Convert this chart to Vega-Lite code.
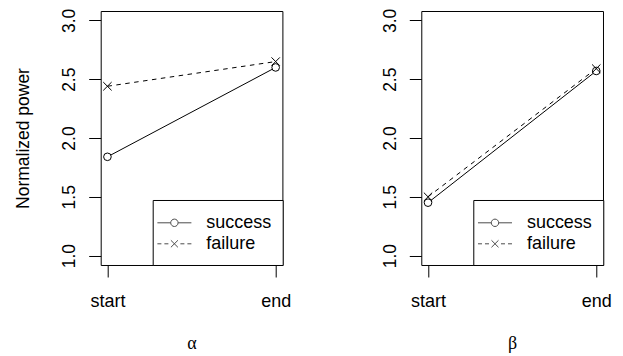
{
  "$schema": "https://vega.github.io/schema/vega-lite/v6.json",
  "background": "white",
  "padding": {"left": 13.7, "top": 7, "right": 0, "bottom": 0},
  "data": {"values": [
    {"panel": "alpha", "series": "success", "stage": "start", "value": 1.84},
    {"panel": "alpha", "series": "success", "stage": "end", "value": 2.60},
    {"panel": "alpha", "series": "failure", "stage": "start", "value": 2.44},
    {"panel": "alpha", "series": "failure", "stage": "end", "value": 2.65},
    {"panel": "beta", "series": "success", "stage": "start", "value": 1.45},
    {"panel": "beta", "series": "success", "stage": "end", "value": 2.57},
    {"panel": "beta", "series": "failure", "stage": "start", "value": 1.50},
    {"panel": "beta", "series": "failure", "stage": "end", "value": 2.59}
  ]},
  "spacing": 138.6,
  "bounds": "flush",
  "resolve": {"scale": {"shape": "independent"}, "legend": {"shape": "independent"}},
  "hconcat": [
    {
      "width": 181.7,
      "height": 254,
      "transform": [{"filter": "datum.panel == 'alpha'"}],
      "encoding": {
        "x": {"field": "stage", "type": "ordinal", "sort": ["start", "end"],
          "scale": {"type": "point", "domain": ["start", "end"], "padding": 0.04},
          "axis": {"title": "α", "titleFont": "Liberation Serif", "titleFontSize": 18, "titleFontWeight": "normal",
            "titleX": 90.85, "titleY": 83.5, "titleBaseline": "alphabetic", "titleAlign": "center",
            "labelAngle": 0, "labelFontSize": 18, "labelBaseline": "alphabetic", "labelAlign": "center", "labelPadding": 29.2, "tickSize": 12}},
        "y": {"field": "value", "type": "quantitative",
          "scale": {"domain": [0.92, 3.08], "nice": false, "zero": false},
          "axis": {"title": "Normalized power", "values": [1, 1.5, 2, 2.5, 3], "format": ".1f",
            "labelAngle": 270, "labelAlign": "center", "labelBaseline": "alphabetic", "labelPadding": 14, "labelFontSize": 17.5, "labelOverlap": false,
            "titleFontSize": 17.5, "titleFontWeight": "normal", "titleAngle": 270, "titleX": -72.5, "titleY": 127, "titleAlign": "center", "titleBaseline": "alphabetic", "tickSize": 12}}
      },
      "layer": [
        {"transform": [{"filter": "datum.series == 'success'"}],
          "mark": {"type": "line", "color": "black", "strokeWidth": 1}},
        {"transform": [{"filter": "datum.series == 'failure'"}],
          "mark": {"type": "line", "color": "black", "strokeWidth": 1, "strokeDash": [4.5, 4.5]}},
        {"transform": [{"filter": "datum.series == 'success'"}],
          "mark": {"type": "point", "shape": "circle", "filled": true, "fill": "white", "stroke": "black", "strokeWidth": 1, "size": 58, "opacity": 1}},
        {"transform": [{"filter": "datum.series == 'failure'"}],
          "mark": {"type": "point", "shape": "M-1,-1L1,1M-1,1L1,-1", "filled": false, "stroke": "black", "strokeWidth": 1, "size": 70, "opacity": 1}},
        {"mark": {"type": "point", "filled": false, "color": "black", "strokeWidth": 1, "size": 0},
          "encoding": {"shape": {"field": "series", "type": "nominal",
            "scale": {"domain": ["success", "failure"], "range": [
              "M-1.545,0L-0.336,0M0.336,0L1.545,0M-0.336,0A0.336,0.336,0,1,1,0.336,0A0.336,0.336,0,1,1,-0.336,0Z",
              "M-1.545,0L-1.182,0M-0.909,0L-0.545,0M0.545,0L0.909,0M1.182,0L1.545,0M-0.318,-0.318L0.318,0.318M-0.318,0.318L0.318,-0.318"]},
            "legend": {"title": null, "orient": "bottom-right", "offset": 0, "padding": 11.3, "fillColor": "white", "strokeColor": "black",
              "labelFontSize": 18, "labelFont": "Liberation Sans", "labelColor": "black", "symbolSize": 484, "symbolStrokeWidth": 1,
              "symbolStrokeColor": "black", "symbolFillColor": "transparent", "labelOffset": 20.4, "symbolOffset": -1.1, "rowPadding": -2}}}}
      ]
    },
    {
      "width": 181.7,
      "height": 254,
      "transform": [{"filter": "datum.panel == 'beta'"}],
      "encoding": {
        "x": {"field": "stage", "type": "ordinal", "sort": ["start", "end"],
          "scale": {"type": "point", "domain": ["start", "end"], "padding": 0.04},
          "axis": {"title": "β", "titleFont": "Liberation Serif", "titleFontSize": 18, "titleFontWeight": "normal",
            "titleX": 90.85, "titleY": 83.5, "titleBaseline": "alphabetic", "titleAlign": "center",
            "labelAngle": 0, "labelFontSize": 18, "labelBaseline": "alphabetic", "labelAlign": "center", "labelPadding": 29.2, "tickSize": 12}},
        "y": {"field": "value", "type": "quantitative",
          "scale": {"domain": [0.92, 3.08], "nice": false, "zero": false},
          "axis": {"title": null, "values": [1, 1.5, 2, 2.5, 3], "format": ".1f",
            "labelAngle": 270, "labelAlign": "center", "labelBaseline": "alphabetic", "labelPadding": 14, "labelFontSize": 17.5, "labelOverlap": false, "tickSize": 12}}
      },
      "layer": [
        {"transform": [{"filter": "datum.series == 'success'"}],
          "mark": {"type": "line", "color": "black", "strokeWidth": 1}},
        {"transform": [{"filter": "datum.series == 'failure'"}],
          "mark": {"type": "line", "color": "black", "strokeWidth": 1, "strokeDash": [4.5, 4.5]}},
        {"transform": [{"filter": "datum.series == 'success'"}],
          "mark": {"type": "point", "shape": "circle", "filled": true, "fill": "white", "stroke": "black", "strokeWidth": 1, "size": 58, "opacity": 1}},
        {"transform": [{"filter": "datum.series == 'failure'"}],
          "mark": {"type": "point", "shape": "M-1,-1L1,1M-1,1L1,-1", "filled": false, "stroke": "black", "strokeWidth": 1, "size": 70, "opacity": 1}},
        {"mark": {"type": "point", "filled": false, "color": "black", "strokeWidth": 1, "size": 0},
          "encoding": {"shape": {"field": "series", "type": "nominal",
            "scale": {"domain": ["success", "failure"], "range": [
              "M-1.545,0L-0.336,0M0.336,0L1.545,0M-0.336,0A0.336,0.336,0,1,1,0.336,0A0.336,0.336,0,1,1,-0.336,0Z",
              "M-1.545,0L-1.182,0M-0.909,0L-0.545,0M0.545,0L0.909,0M1.182,0L1.545,0M-0.318,-0.318L0.318,0.318M-0.318,0.318L0.318,-0.318"]},
            "legend": {"title": null, "orient": "bottom-right", "offset": 0, "padding": 11.3, "fillColor": "white", "strokeColor": "black",
              "labelFontSize": 18, "labelFont": "Liberation Sans", "labelColor": "black", "symbolSize": 484, "symbolStrokeWidth": 1,
              "symbolStrokeColor": "black", "symbolFillColor": "transparent", "labelOffset": 20.4, "symbolOffset": -1.1, "rowPadding": -2}}}}
      ]
    }
  ],
  "config": {
    "font": "Liberation Sans",
    "view": {"stroke": "black", "strokeWidth": 1},
    "axis": {"grid": false, "domain": false, "tickColor": "black", "labelColor": "black", "titleColor": "black",
      "labelFont": "Liberation Sans", "titleFont": "Liberation Sans", "titleFontWeight": "normal"}
  }
}
